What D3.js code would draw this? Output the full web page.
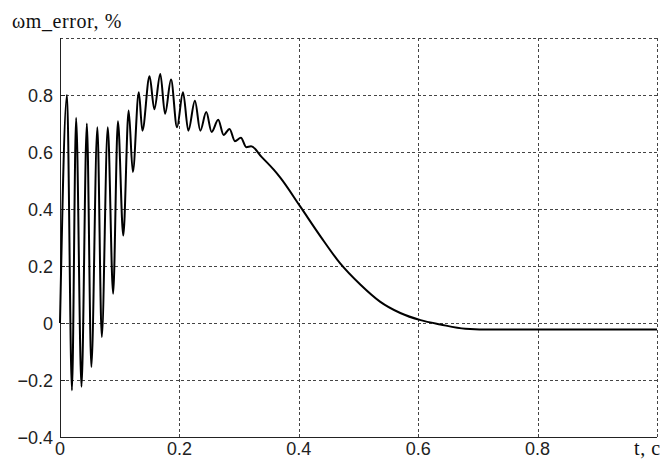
<!DOCTYPE html>
<html lang="en">
<head>
    <meta charset="UTF-8">
    <script src="https://cdn.jsdelivr.net/npm/d3@7"></script>
    <title>ωm_error</title>
    <style>
        body { margin: 0; background: white; }
        .grid line { stroke: #444; stroke-width: 1px; stroke-dasharray: 3, 2.5; shape-rendering: crispEdges; }
        .tick-label { font-family: "Liberation Sans", Arial, sans-serif; font-size: 18px; fill: #222; }
        .serif-label { font-family: "Liberation Serif", "Times New Roman", serif; font-size: 20px; fill: #111; letter-spacing: 0.6px; }
    </style>
</head>
<body>
    <div id="chart"></div>
    <script>
        // Time, s
        const tValues = [0, 0.0117, 0.020, 0.027, 0.036, 0.045, 0.0525, 0.0626, 0.070, 0.080,
            0.089, 0.097, 0.106, 0.115, 0.122, 0.132, 0.138, 0.150, 0.158, 0.168,
            0.176, 0.186, 0.196, 0.206, 0.215, 0.226, 0.235, 0.245, 0.254, 0.265,
            0.274, 0.284, 0.293, 0.303, 0.312, 0.320, 0.338, 0.358, 0.369, 0.402,
            0.436, 0.469, 0.503, 0.536, 0.570, 0.604, 0.637, 0.679, 0.726, 0.800,
            0.900, 1.0];
        // Speed error, %
        const errValues = [0.0, 0.80, -0.236, 0.72, -0.224, 0.70, -0.154, 0.687, -0.049, 0.687,
            0.103, 0.708, 0.307, 0.746, 0.53, 0.81, 0.675, 0.866, 0.75, 0.874,
            0.734, 0.854, 0.687, 0.81, 0.675, 0.78, 0.675, 0.74, 0.67, 0.713,
            0.66, 0.681, 0.638, 0.65, 0.617, 0.62, 0.582, 0.538, 0.51, 0.41,
            0.305, 0.21, 0.135, 0.075, 0.035, 0.01, -0.005, -0.02, -0.023, -0.023,
            -0.023, -0.023];

        const xTicks = [0, 0.2, 0.4, 0.6, 0.8];
        const yTicks = [-0.4, -0.2, 0, 0.2, 0.4, 0.6, 0.8];
        const xGrid = [0.2, 0.4, 0.6, 0.8, 1.0];
        const yGrid = [-0.2, 0, 0.2, 0.4, 0.6, 0.8, 1.0];

        const width = 663, height = 459;
        const margin = { top: 38, right: 6, bottom: 22, left: 60 };
        const innerW = width - margin.left - margin.right;
        const innerH = height - margin.top - margin.bottom;

        const svg = d3.select("#chart").append("svg")
            .attr("width", width)
            .attr("height", height);

        const g = svg.append("g").attr("transform", `translate(${margin.left},${margin.top})`);

        const x = d3.scaleLinear().domain([0, 1]).range([0, innerW]);
        const y = d3.scaleLinear().domain([-0.4, 1.0]).range([innerH, 0]);

        // dashed grid
        const grid = g.append("g").attr("class", "grid");
        grid.selectAll(".vg").data(xGrid).enter().append("line")
            .attr("x1", d => Math.round(x(d)) + 0.5).attr("x2", d => Math.round(x(d)) + 0.5)
            .attr("y1", 0).attr("y2", innerH);
        grid.selectAll(".hg").data(yGrid).enter().append("line")
            .attr("x1", 0).attr("x2", innerW)
            .attr("y1", d => Math.round(y(d)) + 0.5).attr("y2", d => Math.round(y(d)) + 0.5);

        // solid left and bottom axis lines
        g.append("line").attr("x1", 0.5).attr("x2", 0.5).attr("y1", 0).attr("y2", innerH)
            .attr("stroke", "#222").attr("stroke-width", 1);
        g.append("line").attr("x1", 0).attr("x2", innerW).attr("y1", innerH + 0.5).attr("y2", innerH + 0.5)
            .attr("stroke", "#222").attr("stroke-width", 1);

        // small ticks on left axis
        g.selectAll(".ytick").data(yTicks).enter().append("line")
            .attr("x1", 0).attr("x2", 5)
            .attr("y1", d => Math.round(y(d)) + 0.5).attr("y2", d => Math.round(y(d)) + 0.5)
            .attr("stroke", "#222");

        // tick labels
        g.selectAll(".ylab").data(yTicks).enter().append("text")
            .attr("class", "tick-label")
            .attr("x", -7)
            .attr("y", d => y(d) + 6.5)
            .attr("text-anchor", "end")
            .text(d => d3.format("")(d));
        g.selectAll(".xlab").data(xTicks).enter().append("text")
            .attr("class", "tick-label")
            .attr("x", d => x(d))
            .attr("y", innerH + 18)
            .attr("text-anchor", "middle")
            .text(d => d3.format("")(d));

        // curve
        const data = tValues.map((t, i) => ({ t: t, v: errValues[i] }));
        const line = d3.line()
            .x(d => x(d.t))
            .y(d => y(d.v))
            .curve(d3.curveMonotoneX);
        g.append("path")
            .datum(data)
            .attr("d", line)
            .attr("fill", "none")
            .attr("stroke", "#000")
            .attr("stroke-width", 2);

        // labels
        svg.append("text").attr("class", "serif-label")
            .attr("x", 12).attr("y", 28)
            .text("ωm_error, %");
        svg.append("text").attr("class", "serif-label")
            .attr("x", 634).attr("y", 455)
            .text("t, c");
    </script>
</body>
</html>
